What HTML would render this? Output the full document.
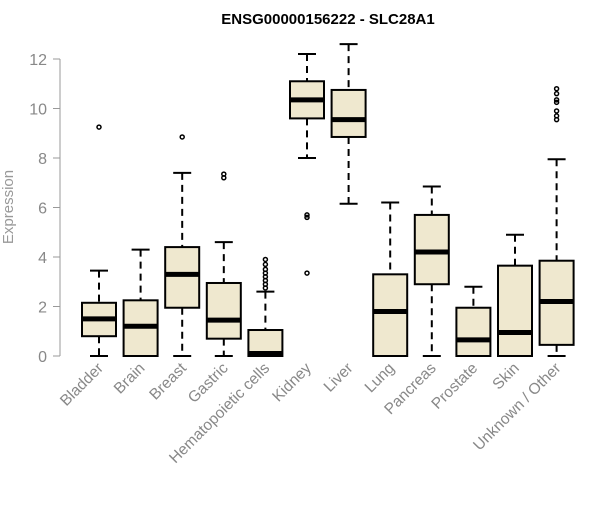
<!DOCTYPE html>
<html><head><meta charset="utf-8"><style>
body{margin:0;background:#fff;}
svg{font-family:"Liberation Sans",Arial,sans-serif;}
</style></head><body>
<svg id="chart" width="600" height="500">
<text x="328" y="24" text-anchor="middle" font-weight="bold" font-size="15">ENSG00000156222 - SLC28A1</text>
<text transform="translate(13,207) rotate(-90)" text-anchor="middle" font-size="15" fill="#999">Expression</text>
<g id="yaxis"></g>
<g id="boxes"></g>
<g id="xlabels"></g>
</svg>
<script>
const categories=["Bladder","Brain","Breast","Gastric","Hematopoietic cells","Kidney","Liver","Lung","Pancreas","Prostate","Skin","Unknown / Other"];
const lows=[0,0,0,0,0,8.0,6.15,0,0,0,0,0];
const q1s=[0.8,0,1.95,0.7,0,9.6,8.85,0,2.9,0,0,0.45];
const medians=[1.5,1.2,3.3,1.45,0.1,10.35,9.55,1.8,4.2,0.65,0.95,2.2];
const q3s=[2.15,2.25,4.4,2.95,1.05,11.1,10.75,3.3,5.7,1.95,3.65,3.85];
const highs=[3.45,4.3,7.4,4.6,2.6,12.2,12.6,6.2,6.85,2.8,4.9,7.95];
const outliers=[[9.25],[],[8.85],[7.2,7.35],[2.75,2.9,3.05,3.2,3.35,3.5,3.7,3.9],[5.6,5.7,3.35],[],[],[],[],[],[9.55,9.7,9.9,10.25,10.35,10.6,10.8]];
const yTicks=[0,2,4,6,8,10,12];
const NS="http://www.w3.org/2000/svg";
const y=v=>356-v*24.75;
const x=i=>99+i*41.6;
function mk(tag,attrs,parent){const e=document.createElementNS(NS,tag);for(const k in attrs)e.setAttribute(k,attrs[k]);parent.appendChild(e);return e;}
const ya=document.getElementById('yaxis');
let ax=mk('line',{x1:60,x2:60,y1:y(12),y2:y(0),stroke:'#999'},ya);


yTicks.forEach(t=>{
 const l=mk('line',{x1:53,x2:60,y1:y(t),y2:y(t),stroke:'#999'},ya);
 
 
 const tx=mk('text',{x:47,y:y(t)+6,'text-anchor':'end','font-size':16,fill:'#888'},ya);
 tx.textContent=t;
 
 
});
const bg=document.getElementById('boxes'),xl=document.getElementById('xlabels');
categories.forEach((c,i)=>{
 const cx=x(i),w=34;
 const g=mk('g',{},bg);
 
 
 mk('line',{x1:cx,x2:cx,y1:y(highs[i]),y2:y(q3s[i]),stroke:'#000','stroke-width':2,'stroke-dasharray':'7,5'},g);
 mk('line',{x1:cx,x2:cx,y1:y(q1s[i]),y2:y(lows[i]),stroke:'#000','stroke-width':2,'stroke-dasharray':'7,5'},g);
 mk('line',{x1:cx-9,x2:cx+9,y1:y(highs[i]),y2:y(highs[i]),stroke:'#000','stroke-width':2},g);
 mk('line',{x1:cx-9,x2:cx+9,y1:y(lows[i]),y2:y(lows[i]),stroke:'#000','stroke-width':2},g);
 mk('rect',{x:cx-w/2,y:y(q3s[i]),width:w,height:Math.max(y(q1s[i])-y(q3s[i]),0.5),fill:'#efe8cf',stroke:'#000','stroke-width':2},g);
 mk('line',{x1:cx-w/2,x2:cx+w/2,y1:y(medians[i]),y2:y(medians[i]),stroke:'#000','stroke-width':5},g);
 outliers[i].forEach(o=>{
  const p=mk('circle',{cx:cx,cy:y(o),r:2,fill:'none',stroke:'#000','stroke-width':1.5},g);
  
  
 });
 const t=mk('text',{transform:`translate(${cx+5},${369}) rotate(-45)`,'text-anchor':'end','font-size':15.5,fill:'#888'},xl);
 t.textContent=c;
 
 
});
</script>
</body></html>
